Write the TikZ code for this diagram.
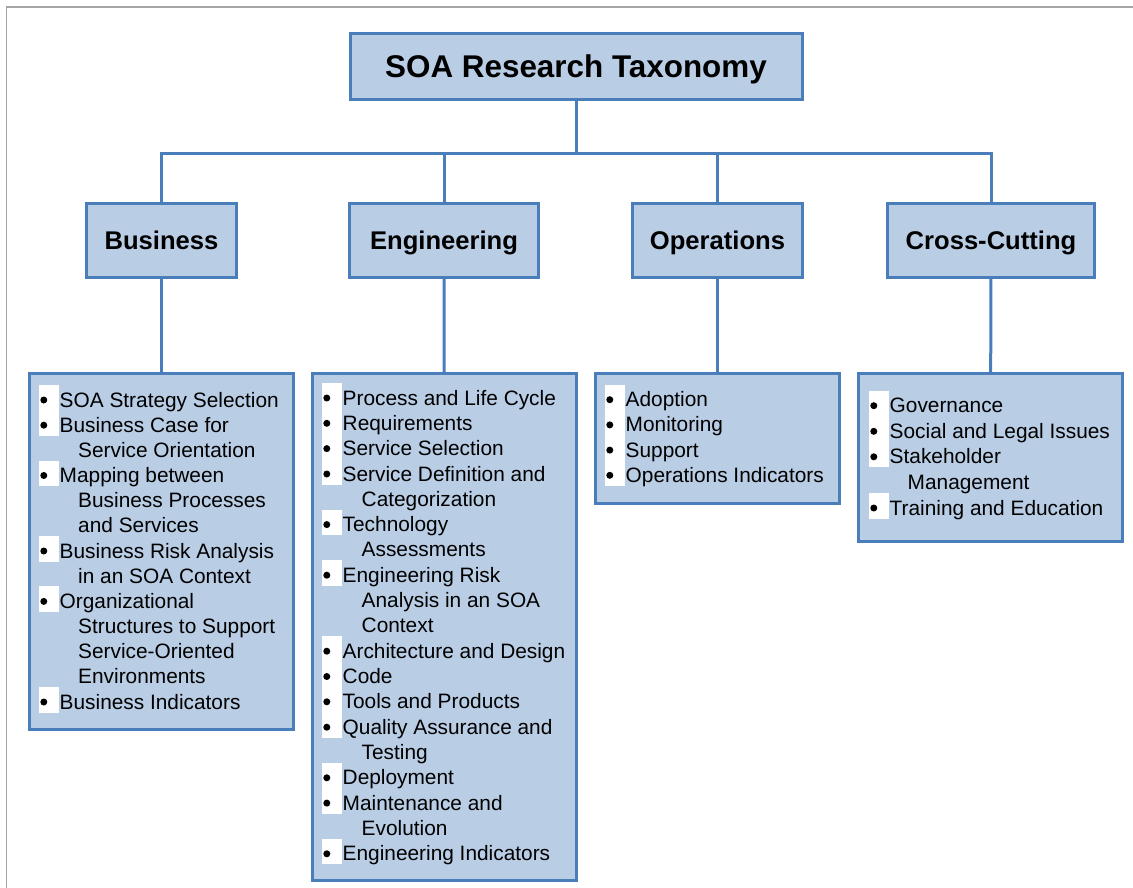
\documentclass[tikz,border=0pt]{standalone}
\usepackage{fontspec}
\setmainfont{Liberation Sans}
\definecolor{boxfill}{RGB}{185,205,229}
\definecolor{boxline}{RGB}{74,126,187}
\definecolor{framegray}{RGB}{165,165,165}
\pgfdeclarelayer{bg}
\pgfsetlayers{bg,main}
\tikzset{
    every node/.style={rectangle, inner sep=0mm},
    box/.style={draw=boxline, fill=boxfill, line width=3pt},
    titlebox/.style={box, minimum width=452pt, minimum height=66pt, text height=22.4pt, text depth=0pt,
        font=\fontsize{31.4pt}{36pt}\selectfont\bfseries},
    headbox/.style={box, minimum height=74pt, text height=17.5pt, text depth=0pt,
        font=\fontsize{25.6pt}{30pt}\selectfont\bfseries},
    listbox/.style={box},
    entry/.style={anchor=base west, text height=21.8pt, text depth=3.5pt,
        font=\fontsize{20.85pt}{25.3pt}\selectfont},
    dotpatch/.style={fill=white, minimum width=20.5pt, minimum height=25.6pt,
        path picture={\fill [black] ([xshift=5pt, yshift=-2.15pt]path picture bounding box.west) circle (3.5pt);}},
    item/.style={entry, label={[dotpatch]left:{}}}
}
\tikzset{link/.style={draw=boxline, line width=3pt}}

\begin{document}
\begin{tikzpicture}[x=1pt, y=-1pt]
        \useasboundingbox (0,0) rectangle (1133,888);
        \draw [framegray, line width=1.5pt] (6.5,888) -- (6.5,7) -- (1133,7);
        \node (title) [titlebox] at (576,66.5) {SOA Research Taxonomy};
        \coordinate (bar) at (576,154);
        \node (bus) [headbox, minimum width=150pt] at (161.5,240.5) {Business};
        \node (eng) [headbox, minimum width=189pt] at (444,240.5) {Engineering};
        \node (ops) [headbox, minimum width=170pt] at (717.5,240.5) {Operations};
        \node (cross) [headbox, minimum width=207pt] at (991,240.5) {Cross-Cutting};
        \node (buslist) [listbox, minimum width=264pt, minimum height=356pt] at (161.5,551.5) {};
        \node (englist) [listbox, minimum width=264pt, minimum height=507pt] at (444.5,627) {};
        \node (opslist) [listbox, minimum width=244pt, minimum height=130pt] at (717.5,438.5) {};
        \node (crosslist) [listbox, minimum width=264pt, minimum height=168pt] at (990.5,457.5) {};
        \node (b0) [item] at (59.5,407.0) {SOA Strategy Selection};
        \node (b1) [item] at (59.5,432.2) {Business Case for};
        \node (b2) [entry] at (78,457.3) {Service Orientation};
        \node (b3) [item] at (59.5,482.5) {Mapping between};
        \node (b4) [entry] at (78,507.7) {Business Processes};
        \node (b5) [entry] at (78,532.9) {and Services};
        \node (b6) [item] at (59.5,558.0) {Business Risk Analysis};
        \node (b7) [entry] at (78,583.2) {in an SOA Context};
        \node (b8) [item] at (59.5,608.4) {Organizational};
        \node (b9) [entry] at (78,633.5) {Structures to Support};
        \node (b10) [entry] at (78,658.7) {Service-Oriented};
        \node (b11) [entry] at (78,683.9) {Environments};
        \node (b12) [item] at (59.5,709.0) {Business Indicators};
        \node (e0) [item] at (342.5,405.0) {Process and Life Cycle};
        \node (e1) [item] at (342.5,430.3) {Requirements};
        \node (e2) [item] at (342.5,455.6) {Service Selection};
        \node (e3) [item] at (342.5,481.0) {Service Definition and};
        \node (e4) [entry] at (361.5,506.3) {Categorization};
        \node (e5) [item] at (342.5,531.6) {Technology};
        \node (e6) [entry] at (361.5,556.9) {Assessments};
        \node (e7) [item] at (342.5,582.2) {Engineering Risk};
        \node (e8) [entry] at (361.5,607.6) {Analysis in an SOA};
        \node (e9) [entry] at (361.5,632.9) {Context};
        \node (e10) [item] at (342.5,658.2) {Architecture and Design};
        \node (e11) [item] at (342.5,683.5) {Code};
        \node (e12) [item] at (342.5,708.8) {Tools and Products};
        \node (e13) [item] at (342.5,734.2) {Quality Assurance and};
        \node (e14) [entry] at (361.5,759.5) {Testing};
        \node (e15) [item] at (342.5,784.8) {Deployment};
        \node (e16) [item] at (342.5,810.1) {Maintenance and};
        \node (e17) [entry] at (361.5,835.4) {Evolution};
        \node (e18) [item] at (342.5,860.8) {Engineering Indicators};
        \node (o0) [item] at (625.5,406.7) {Adoption};
        \node (o1) [item] at (625.5,431.9) {Monitoring};
        \node (o2) [item] at (625.5,457.1) {Support};
        \node (o3) [item] at (625.5,482.3) {Operations Indicators};
        \node (c0) [item] at (889.5,412.7) {Governance};
        \node (c1) [item] at (889.5,438.3) {Social and Legal Issues};
        \node (c2) [item] at (889.5,463.8) {Stakeholder};
        \node (c3) [entry] at (907.5,489.4) {Management};
        \node (c4) [item] at (889.5,515.0) {Training and Education};
        \begin{pgfonlayer}{bg}
                \draw [link] (title) -- (bar) -| (bus);
                \draw [link] (title) -- (bar) -| (eng);
                \draw [link] (title) -- (bar) -| (ops);
                \draw [link] (title) -- (bar) -| (cross);
                \draw (bus) edge [link] (buslist);
                \draw (eng) edge [link] (englist);
                \draw (ops) edge [link] (opslist);
                \draw (cross) edge [link] (crosslist);
        \end{pgfonlayer}
\end{tikzpicture}
\end{document}
